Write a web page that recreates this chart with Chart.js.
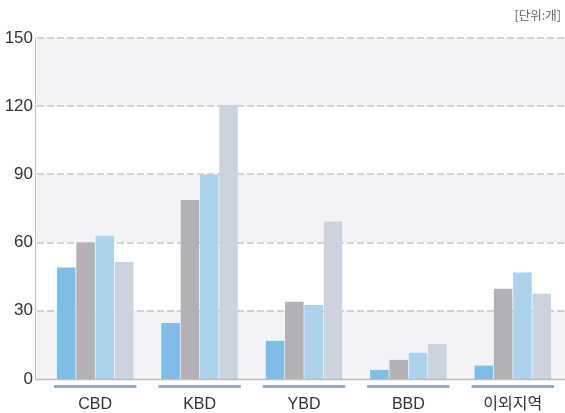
<!DOCTYPE html>
<html><head><meta charset="utf-8">
<script src="https://cdn.jsdelivr.net/npm/chart.js@4/dist/chart.umd.min.js"></script>
<style>
html,body{margin:0;padding:0;background:#fff;}
#wrap{position:relative;width:565px;height:413px;overflow:hidden;}
#unit{position:absolute;right:4px;top:5px;font:12.5px "Noto Sans CJK KR","Noto Sans",sans-serif;color:#666;}
</style></head><body>
<div id="wrap"><canvas id="c" width="565" height="413"></canvas><div id="unit">[단위:개]</div></div>
<script>
const categories = ["CBD","KBD","YBD","BBD","이외지역"];
const series1 = [49, 24.6, 16.8, 4, 5.9];
const series2 = [60, 78.7, 34, 8.4, 39.7];
const series3 = [63, 90, 32.6, 11.5, 46.8];
const series4 = [51.5, 120.5, 69.3, 15.4, 37.5];
const yTicks = [0, 30, 60, 90, 120, 150];
const colors = ["#7dbde6","#b1b2b6","#acd2ee","#cbd3df"];
const AXIS_X = 37;

const bg = {
  id:'bg',
  beforeDatasetsDraw(chart){
    const {ctx, chartArea:a, scales:{x,y}} = chart;
    const R = chart.width;
    ctx.save();
    for(let i=0;i<yTicks.length-1;i++){
      const t=y.getPixelForValue(yTicks[i+1]), b=y.getPixelForValue(yTicks[i]);
      ctx.fillStyle = (i%2===0) ? '#f2f3f7' : '#ffffff';
      ctx.fillRect(AXIS_X,t,R-AXIS_X,b-t);
    }
    ctx.strokeStyle='#c6c6c8'; ctx.lineWidth=1.5; ctx.setLineDash([7,3]);
    yTicks.forEach(v=>{ if(v===0) return;
      const py=Math.round(y.getPixelForValue(v));
      ctx.beginPath(); ctx.moveTo(AXIS_X,py); ctx.lineTo(R,py); ctx.stroke();
    });
    ctx.setLineDash([]);
    ctx.strokeStyle='#c0c0c4'; ctx.lineWidth=1;
    ctx.beginPath(); ctx.moveTo(AXIS_X-1.5,a.top); ctx.lineTo(AXIS_X-1.5,a.bottom); ctx.stroke();
    ctx.restore();
  },
  afterDatasetsDraw(chart){
    const {ctx, chartArea:a, scales:{x,y}} = chart;
    const R = chart.width;
    ctx.save();
    ctx.strokeStyle='#bdbdc0'; ctx.lineWidth=1.5;
    const py=y.getPixelForValue(0)+0.5;
    ctx.beginPath(); ctx.moveTo(AXIS_X-2,py); ctx.lineTo(R,py); ctx.stroke();
    ctx.strokeStyle='#9aaac0'; ctx.lineWidth=3;
    const w=(a.right-a.left)/categories.length;
    categories.forEach((c,i)=>{
      const cx=x.getPixelForValue(i);
      ctx.beginPath(); ctx.moveTo(cx-w*0.395,a.bottom+7.5); ctx.lineTo(cx+w*0.395,a.bottom+7.5); ctx.stroke();
    });
    ctx.restore();
  }
};

new Chart(document.getElementById('c'),{
  type:'bar',
  data:{labels:categories,datasets:[series1,series2,series3,series4].map((d,i)=>({data:d,backgroundColor:colors[i],borderWidth:0,categoryPercentage:0.74,barPercentage:0.96}))},
  options:{
    responsive:false,animation:false,
    layout:{padding:{top:38,right:-4,left:0,bottom:0}},
    plugins:{legend:{display:false},tooltip:{enabled:false}},
    scales:{
      x:{grid:{display:false,drawTicks:false},border:{display:false},
         ticks:{color:'#333',font:{family:'"Liberation Sans", "Noto Sans CJK KR", sans-serif',size:16},padding:16},
         afterFit(s){s.height=34;}},
      y:{min:0,max:150,grid:{display:false,drawTicks:false},border:{display:false},
         afterBuildTicks(s){s.ticks=yTicks.map(v=>({value:v}));},
         ticks:{color:'#333',font:{family:'"Liberation Sans", sans-serif',size:17},padding:10},
         afterFit(s){s.width=43;}}
    }
  },
  plugins:[bg]
});
</script></body></html>
